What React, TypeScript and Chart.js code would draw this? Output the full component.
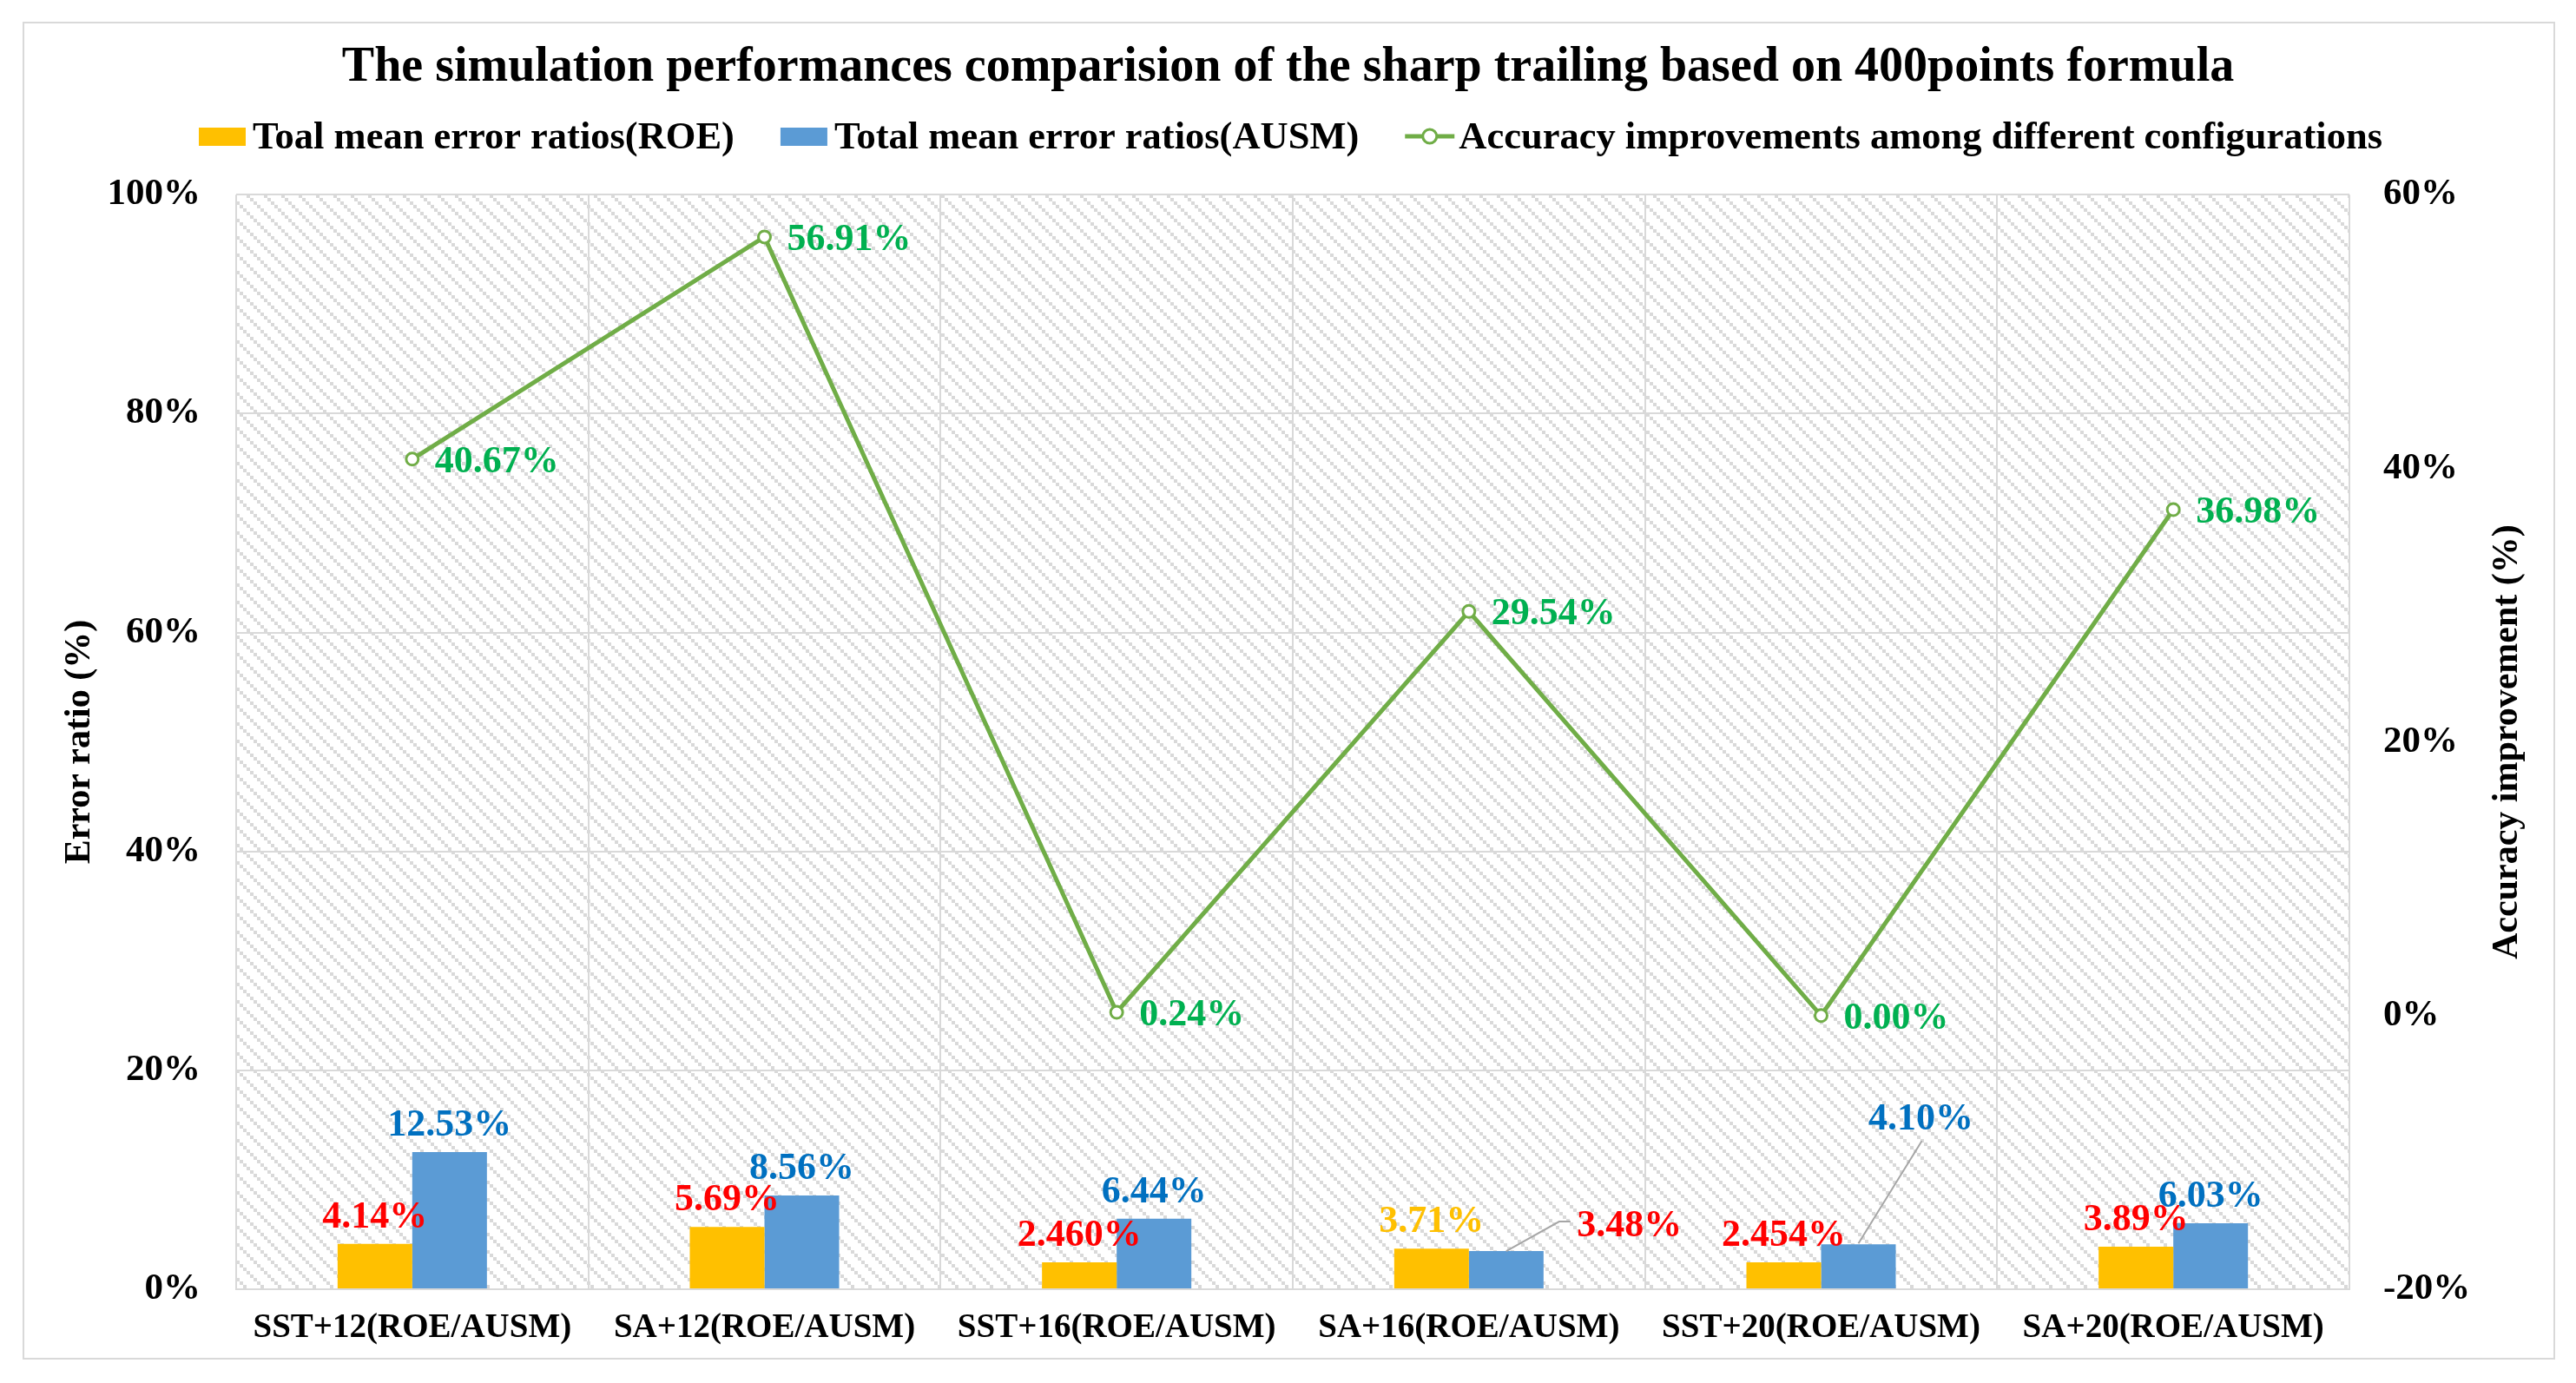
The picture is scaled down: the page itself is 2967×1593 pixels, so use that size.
import React, { useEffect, useRef } from 'react';
import { Chart, registerables } from 'chart.js';

Chart.register(...registerables);

const chartTitle = 'The simulation performances comparision of the sharp trailing based on 400points formula';
const categories = [
  'SST+12(ROE/AUSM)',
  'SA+12(ROE/AUSM)',
  'SST+16(ROE/AUSM)',
  'SA+16(ROE/AUSM)',
  'SST+20(ROE/AUSM)',
  'SA+20(ROE/AUSM)',
];
const seriesNames = [
  'Toal mean error ratios(ROE)',
  'Total mean error ratios(AUSM)',
  'Accuracy improvements among different configurations',
];
const roeValues = [4.14, 5.69, 2.46, 3.71, 2.454, 3.89];
const ausmValues = [12.53, 8.56, 6.44, 3.48, 4.1, 6.03];
const improvementValues = [40.67, 56.91, 0.24, 29.54, 0.0, 36.98];
const roeLabels = ['4.14%', '5.69%', '2.460%', '3.71%', '2.454%', '3.89%'];
const ausmLabels = ['12.53%', '8.56%', '6.44%', '3.48%', '4.10%', '6.03%'];
const improvementLabels = ['40.67%', '56.91%', '0.24%', '29.54%', '0.00%', '36.98%'];
const leftAxisTitle = 'Error ratio (%)';
const rightAxisTitle = 'Accuracy improvement (%)';

// styles (not data)
const FONT = "'Times New Roman', 'Liberation Serif', serif";
const ROE_COLOR = '#ffc000';
const AUSM_COLOR = '#5b9bd5';
const LINE_COLOR = '#70ad47';
const GRID = '#d9d9d9';
const roeLabelColors = ['#ff0000', '#ff0000', '#ff0000', '#ffc000', '#ff0000', '#ff0000'];
const ausmLabelColors = ['#0070c0', '#0070c0', '#0070c0', '#ff0000', '#0070c0', '#0070c0'];
// label placement overrides for AUSM labels: [dx, baselineDy, leader]
const ausmLabelPlacement: Array<null | { dx: number; dy: number; leader: number[][] }> = [
  null,
  null,
  null,
  { dx: 142, dy: -17, leader: [[0, 0], [61, -34], [74, -34]] },
  { dx: 72, dy: -132, leader: [[0, -1], [73, -119]] },
  null,
];

function makePattern(): CanvasPattern | string {
  const s = 4;
  const n = 20;
  const c = document.createElement('canvas');
  c.width = n;
  c.height = n;
  const g = c.getContext('2d');
  if (!g) return '#f4f4f4';
  g.fillStyle = '#ffffff';
  g.fillRect(0, 0, n, n);
  g.fillStyle = GRID;
  for (let i = 0; i < n / s; i++) g.fillRect(i * s, i * s, s, s);
  const p = g.createPattern(c, 'repeat');
  return p || '#f4f4f4';
}

const backgroundPlugin = {
  id: 'bgPlugin',
  beforeDraw(chart: any) {
    const { ctx, chartArea, width, height } = chart;
    ctx.save();
    ctx.fillStyle = '#ffffff';
    ctx.fillRect(0, 0, width, height);
    ctx.strokeStyle = GRID;
    ctx.lineWidth = 2;
    ctx.strokeRect(27, 26, 2915, 1539);
    ctx.fillStyle = makePattern();
    ctx.fillRect(chartArea.left, chartArea.top, chartArea.right - chartArea.left, chartArea.bottom - chartArea.top);
    ctx.restore();
  },
};

const labelsPlugin = {
  id: 'labelsPlugin',
  afterDatasetsDraw(chart: any) {
    const { ctx } = chart;
    ctx.save();
    ctx.font = `bold 44px ${FONT}`;
    ctx.textBaseline = 'alphabetic';
    const m0 = chart.getDatasetMeta(0);
    m0.data.forEach((el: any, i: number) => {
      ctx.fillStyle = roeLabelColors[i];
      ctx.textAlign = 'center';
      ctx.fillText(roeLabels[i], el.x, el.y - 19);
    });
    const m1 = chart.getDatasetMeta(1);
    m1.data.forEach((el: any, i: number) => {
      const pl = ausmLabelPlacement[i];
      ctx.fillStyle = ausmLabelColors[i];
      ctx.textAlign = 'center';
      if (pl) {
        ctx.strokeStyle = '#a6a6a6';
        ctx.lineWidth = 2;
        ctx.beginPath();
        pl.leader.forEach((p, k) => {
          if (k === 0) ctx.moveTo(el.x + p[0], el.y + p[1]);
          else ctx.lineTo(el.x + p[0], el.y + p[1]);
        });
        ctx.stroke();
        ctx.fillText(ausmLabels[i], el.x + pl.dx, el.y + pl.dy);
      } else {
        ctx.fillText(ausmLabels[i], el.x, el.y - 19);
      }
    });
    const m2 = chart.getDatasetMeta(2);
    m2.data.forEach((el: any, i: number) => {
      ctx.fillStyle = '#00b050';
      ctx.textAlign = 'left';
      ctx.fillText(improvementLabels[i], el.x + 26, el.y + 15);
    });
    ctx.restore();
  },
};

const overlayPlugin = {
  id: 'overlayPlugin',
  afterDraw(chart: any) {
    const { ctx, chartArea } = chart;
    ctx.save();
    const midY = (chartArea.top + chartArea.bottom) / 2;
    ctx.font = `bold 42px ${FONT}`;
    ctx.fillStyle = '#000000';
    ctx.textAlign = 'center';
    ctx.textBaseline = 'middle';
    ctx.save();
    ctx.translate(92, midY);
    ctx.rotate(-Math.PI / 2);
    ctx.fillText(leftAxisTitle, 0, 0);
    ctx.restore();
    ctx.save();
    ctx.translate(2888, midY);
    ctx.rotate(-Math.PI / 2);
    ctx.fillText(rightAxisTitle, 0, 0);
    ctx.restore();

    // legend
    ctx.font = `bold 44.5px ${FONT}`;
    ctx.textAlign = 'left';
    ctx.textBaseline = 'alphabetic';
    const swatchW = 54;
    const lineW = 57;
    const itemGap = 53;
    const w = seriesNames.map((s) => ctx.measureText(s).width);
    const total = swatchW + 8 + w[0] + itemGap + swatchW + 8 + w[1] + itemGap + lineW + 5 + w[2];
    let x = (chart.width - total) / 2 + 3;
    const cy = 157;
    const base = 171;
    const swatchColors = [ROE_COLOR, AUSM_COLOR];
    for (let i = 0; i < 2; i++) {
      ctx.fillStyle = swatchColors[i];
      ctx.fillRect(x, cy - 10, swatchW, 21);
      x += swatchW + 8;
      ctx.fillStyle = '#000000';
      ctx.fillText(seriesNames[i], x, base);
      x += w[i] + itemGap;
    }
    ctx.strokeStyle = LINE_COLOR;
    ctx.lineWidth = 5;
    ctx.beginPath();
    ctx.moveTo(x, cy);
    ctx.lineTo(x + lineW, cy);
    ctx.stroke();
    ctx.beginPath();
    ctx.arc(x + lineW / 2, cy, 8, 0, Math.PI * 2);
    ctx.fillStyle = '#ffffff';
    ctx.fill();
    ctx.lineWidth = 3;
    ctx.stroke();
    x += lineW + 5;
    ctx.fillStyle = '#000000';
    ctx.fillText(seriesNames[2], x, base);
    ctx.restore();
  },
};

export default function App() {
  const ref = useRef<HTMLCanvasElement | null>(null);

  useEffect(() => {
    if (!ref.current) return;
    const tickFont = { family: FONT, size: 43, weight: 'bold' as const, lineHeight: 1.2 };
    const chart = new Chart(ref.current, {
      type: 'bar',
      data: {
        labels: categories,
        datasets: [
          {
            type: 'bar',
            label: seriesNames[0],
            data: roeValues,
            backgroundColor: ROE_COLOR,
            yAxisID: 'y',
            categoryPercentage: 0.424,
            barPercentage: 1,
            order: 2,
          },
          {
            type: 'bar',
            label: seriesNames[1],
            data: ausmValues,
            backgroundColor: AUSM_COLOR,
            yAxisID: 'y',
            categoryPercentage: 0.424,
            barPercentage: 1,
            order: 2,
          },
          {
            type: 'line',
            label: seriesNames[2],
            data: improvementValues,
            yAxisID: 'y1',
            borderColor: LINE_COLOR,
            borderWidth: 5,
            pointRadius: 7,
            pointBorderWidth: 3,
            pointBackgroundColor: '#ffffff',
            pointBorderColor: LINE_COLOR,
            tension: 0,
            order: 1,
          } as any,
        ],
      },
      options: {
        responsive: true,
        maintainAspectRatio: false,
        animation: false,
        layout: { padding: 0 },
        plugins: {
          legend: { display: false },
          tooltip: { enabled: false },
          title: {
            display: true,
            text: chartTitle,
            color: '#000000',
            font: { family: FONT, size: 56, weight: 'bold', lineHeight: 1.2 },
            padding: { top: 45, bottom: 112 },
          },
        },
        scales: {
          x: {
            grid: { color: GRID, lineWidth: 2, drawTicks: false, offset: true },
            border: { color: GRID, width: 2 },
            ticks: {
              color: '#000000',
              font: { family: FONT, size: 39, weight: 'bold', lineHeight: 1.2 },
              padding: 22,
              autoSkip: false,
              maxRotation: 0,
              minRotation: 0,
            },
            afterFit: (s: any) => {
              s.height = 108;
            },
          },
          y: {
            position: 'left',
            min: 0,
            max: 100,
            grid: { color: GRID, lineWidth: 2, drawTicks: false },
            border: { display: false },
            ticks: {
              stepSize: 20,
              color: '#000000',
              font: tickFont,
              padding: 41,
              callback: (v: any) => `${v}%`,
            },
            afterFit: (s: any) => {
              s.width = 272;
            },
          },
          y1: {
            position: 'right',
            min: -20,
            max: 60,
            grid: { display: false, drawTicks: false },
            border: { display: false },
            ticks: {
              stepSize: 20,
              color: '#000000',
              font: tickFont,
              padding: 39,
              callback: (v: any) => `${v}%`,
            },
            afterFit: (s: any) => {
              s.width = 261;
            },
          },
        },
      } as any,
      plugins: [backgroundPlugin, labelsPlugin, overlayPlugin],
    });
    return () => chart.destroy();
  }, []);

  return (
    <div style={{ position: 'fixed', left: 0, top: 0, width: 2967, height: 1593, background: '#ffffff' }}>
      <canvas ref={ref} style={{ display: 'block' }} />
    </div>
  );
}
